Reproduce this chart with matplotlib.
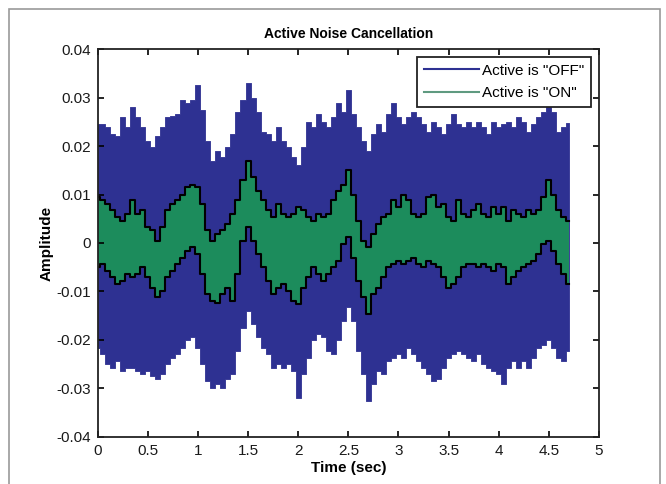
import numpy as np
import matplotlib
matplotlib.use("Agg")
import matplotlib.pyplot as plt
import matplotlib.patches as mpatches

# envelope samples, every 0.05 s from 0 to 4.7 s
t = [round(0.05 * i, 2) for i in range(95)]

off_upper = [0.0246, 0.0245, 0.024, 0.0225, 0.022, 0.026, 0.024, 0.028, 0.026, 0.024,
             0.021, 0.0198, 0.022, 0.024, 0.026, 0.0262, 0.0267, 0.0295, 0.0288, 0.0295,
             0.0325, 0.0274, 0.021, 0.017, 0.019, 0.0177, 0.0198, 0.0225, 0.027, 0.0295,
             0.033, 0.030, 0.027, 0.023, 0.0225, 0.021, 0.024, 0.021, 0.0198, 0.0177,
             0.016, 0.0198, 0.025, 0.024, 0.0267, 0.025, 0.024, 0.026, 0.0288, 0.027,
             0.0315, 0.0267, 0.024, 0.021, 0.019, 0.0225, 0.0246, 0.023, 0.0267, 0.0288,
             0.026, 0.0246, 0.026, 0.027, 0.026, 0.0246, 0.023, 0.025, 0.024, 0.0225,
             0.0246, 0.0267, 0.0246, 0.024, 0.025, 0.024, 0.025, 0.024, 0.0225, 0.025,
             0.024, 0.0246, 0.025, 0.024, 0.026, 0.025, 0.023, 0.0246, 0.026, 0.027,
             0.0288, 0.027, 0.023, 0.024, 0.0248]

off_lower = [-0.0216, -0.023, -0.025, -0.0257, -0.0243, -0.0264, -0.0257, -0.0257, -0.0264, -0.027,
             -0.0264, -0.0274, -0.028, -0.027, -0.025, -0.0237, -0.023, -0.0216, -0.020, -0.0195,
             -0.0216, -0.025, -0.0285, -0.030, -0.029, -0.030, -0.028, -0.027, -0.0223, -0.0175,
             -0.014, -0.0168, -0.0195, -0.0216, -0.023, -0.0257, -0.025, -0.0257, -0.025, -0.0264,
             -0.032, -0.027, -0.0237, -0.020, -0.0188, -0.0195, -0.0223, -0.023, -0.020, -0.016,
             -0.0133, -0.016, -0.0223, -0.027, -0.0326, -0.029, -0.0264, -0.027, -0.0243, -0.0237,
             -0.023, -0.0237, -0.0216, -0.023, -0.0243, -0.0257, -0.027, -0.0285, -0.028, -0.0257,
             -0.0237, -0.023, -0.0223, -0.023, -0.0237, -0.0243, -0.023, -0.025, -0.0257, -0.0264,
             -0.027, -0.029, -0.0257, -0.0243, -0.0257, -0.0243, -0.0257, -0.0237, -0.0216, -0.021,
             -0.020, -0.0216, -0.0237, -0.0243, -0.0223]

on_upper = [0.0094, 0.0088, 0.008, 0.0067, 0.0053, 0.0046, 0.006, 0.0088, 0.006, 0.0067,
            0.0032, 0.0026, 0.0005, 0.0032, 0.0067, 0.008, 0.0088, 0.010, 0.0115, 0.012,
            0.0115, 0.008, 0.0026, 0.0005, 0.0019, 0.0026, 0.004, 0.006, 0.0088, 0.013,
            0.017, 0.0136, 0.0108, 0.0088, 0.0067, 0.0053, 0.008, 0.006, 0.0053, 0.006,
            0.0074, 0.0067, 0.0053, 0.0046, 0.006, 0.0053, 0.006, 0.0088, 0.0108, 0.012,
            0.015, 0.010, 0.0046, 0.0005, -0.0009, 0.0019, 0.004, 0.0053, 0.006, 0.0088,
            0.0074, 0.010, 0.0088, 0.006, 0.0053, 0.006, 0.0094, 0.010, 0.0074, 0.008,
            0.0053, 0.0046, 0.0088, 0.006, 0.0053, 0.0067, 0.008, 0.006, 0.0053, 0.0074,
            0.006, 0.0074, 0.0046, 0.0067, 0.006, 0.0053, 0.0067, 0.006, 0.0067, 0.0094,
            0.013, 0.010, 0.0067, 0.0053, 0.0046]

on_lower = [-0.005, -0.0043, -0.0057, -0.007, -0.0085, -0.0078, -0.0064, -0.007, -0.0064, -0.005,
            -0.007, -0.0092, -0.0112, -0.0099, -0.007, -0.0057, -0.0043, -0.003, -0.0016, -0.0009,
            -0.0023, -0.0064, -0.0105, -0.012, -0.0123, -0.0105, -0.0092, -0.012, -0.0064, 0.0005,
            0.0032, 0.0005, -0.0023, -0.005, -0.0078, -0.0105, -0.0092, -0.0085, -0.0099, -0.012,
            -0.0126, -0.0092, -0.007, -0.005, -0.0064, -0.0078, -0.0064, -0.005, -0.0037, -0.0002,
            0.0012, -0.003, -0.0078, -0.0112, -0.0147, -0.0105, -0.0092, -0.007, -0.005, -0.0043,
            -0.0037, -0.0043, -0.0037, -0.003, -0.0043, -0.005, -0.0037, -0.0043, -0.005, -0.007,
            -0.0092, -0.0085, -0.007, -0.005, -0.0043, -0.0043, -0.005, -0.0043, -0.005, -0.0057,
            -0.0043, -0.005, -0.0085, -0.007, -0.0057, -0.005, -0.0043, -0.0037, -0.0023, -0.0002,
            0.0005, -0.0016, -0.0043, -0.0064, -0.0085]

x_ticks = [0, 0.5, 1, 1.5, 2, 2.5, 3, 3.5, 4, 4.5, 5]
x_labels = ["0", "0.5", "1", "1.5", "2", "2.5", "3", "3.5", "4", "4.5", "5"]
y_ticks = [-0.04, -0.03, -0.02, -0.01, 0, 0.01, 0.02, 0.03, 0.04]
y_labels = ["-0.04", "-0.03", "-0.02", "-0.01", "0", "0.01", "0.02", "0.03", "0.04"]

BLUE = "#2e3192"
GREEN = "#1c8c5c"

plt.rcParams["font.family"] = ["Liberation Sans", "DejaVu Sans"]

fig = plt.figure(figsize=(6.66, 4.84), dpi=100)
ax = fig.add_axes([0.1465, 0.0975, 0.753, 0.801])

# outer grey frame of the screenshot
fig.patches.append(mpatches.Rectangle((9 / 666, -0.1), 651 / 666, 1.1 - 9 / 484,
                                      transform=fig.transFigure, fill=False,
                                      edgecolor="#9a9a9a", lw=1.2))

# step drawing gives the jagged vertical edges of the dense signal
ax.fill_between(t, off_lower, off_upper, step="mid", color=BLUE, lw=0.6, edgecolor=BLUE)
ax.fill_between(t, on_lower, on_upper, step="mid", color=GREEN, lw=0)
ax.plot(t, on_upper, color="black", lw=1.5, drawstyle="steps-mid")
ax.plot(t, on_lower, color="black", lw=1.5, drawstyle="steps-mid")

ax.set_xlim(0, 5)
ax.set_ylim(-0.04, 0.04)
ax.set_xticks(x_ticks)
ax.set_xticklabels(x_labels)
ax.set_yticks(y_ticks)
ax.set_yticklabels(y_labels)
ax.tick_params(direction="in", top=True, right=True, length=4, width=1.2,
               labelsize=11, pad=5, labelcolor="#1a1a1a")
for s in ax.spines.values():
    s.set_linewidth(1.3)
    s.set_color("#222222")

ax.set_title("Active Noise Cancellation", fontsize=10, fontweight="bold", pad=8)
ax.set_xlabel("Time (sec)", fontsize=11, fontweight="bold", labelpad=2)
ax.set_ylabel("Amplitude", fontsize=11, fontweight="bold", labelpad=2)

h1, = ax.plot([], [], color=BLUE, lw=1.5, label='Active is "OFF"')
h2, = ax.plot([], [], color="#5f9a80", lw=1.5, label='Active is "ON"')
leg = ax.legend(handles=[h1, h2], loc="upper right", fontsize=11, fancybox=False,
                edgecolor="#222222", framealpha=1, borderaxespad=0.5,
                handlelength=3.6, handletextpad=0.2, borderpad=0.45, labelspacing=0.55)
leg.get_frame().set_linewidth(1.3)

fig.savefig("out.png", dpi=100)
